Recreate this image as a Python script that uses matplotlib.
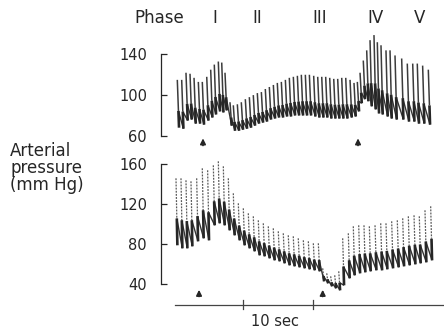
import matplotlib
matplotlib.use("Agg")
import matplotlib.pyplot as plt
from matplotlib.collections import LineCollection

# ---------------- data ----------------
phase_labels = ["I", "II", "III", "IV", "V"]

# top panel: beat times (s), systolic and diastolic pressure (mm Hg)
top_t = [0.49, 1.12, 1.74, 2.32, 2.90, 3.52, 4.09, 4.73, 5.30, 5.82, 6.40, 6.89, 7.36,
         8.08,
         8.56, 9.14, 9.71, 10.29, 10.87, 11.44, 12.02, 12.60, 13.17, 13.75, 14.33, 14.90,
         15.48, 16.06, 16.63, 17.21, 17.79, 18.36, 18.94, 19.52,
         20.14, 20.72, 21.30, 21.87, 22.45, 23.03, 23.60, 24.18, 24.76, 25.38, 25.95, 26.43,
         26.82, 27.29, 27.78, 28.26, 28.83, 29.31, 29.84, 30.56, 31.14, 31.86, 32.82, 33.63,
         34.41, 35.07, 35.84, 36.66]
top_sys = [115, 115, 122, 121, 117, 113, 113, 118, 125, 130, 133, 132, 122,
           93,
           90, 91, 93, 96, 98, 100, 102, 103, 106, 108, 110, 112,
           113, 115, 117, 118, 119, 120, 120, 120,
           119, 118, 118, 118, 117, 116, 116, 117, 117, 115, 112, 113,
           122, 134, 144, 154, 159, 152, 149, 144, 144, 139, 136, 131,
           131, 131, 129, 125]
top_dia = [68, 67, 75, 76, 72, 72, 71, 75, 78, 81, 84, 83, 85,
           70,
           65, 65, 66, 67, 68, 70, 72, 73, 74, 76, 77, 78,
           78, 79, 79, 80, 80, 80, 80, 80,
           79, 78, 78, 78, 77, 77, 77, 77, 77, 78, 79, 84,
           92, 96, 94, 89, 86, 82, 81, 79, 77, 76, 76, 74,
           74, 72, 72, 71]

# bottom panel
bot_t = [0.30, 1.02, 1.74, 2.46, 3.28, 4.09, 4.86, 5.68, 6.40, 7.12, 7.84, 8.56,
         9.28, 10.00, 10.72, 11.44, 12.16, 12.88, 13.60, 14.32, 15.04, 15.76, 16.48,
         17.20, 17.92, 18.65, 19.37, 20.09, 20.81,
         21.44, 22.02, 22.59, 23.17, 23.75, 24.32, 25.13, 25.85, 26.63, 27.39, 28.16,
         28.98, 29.80, 30.56, 31.38, 32.19, 32.97, 33.78, 34.60, 35.36, 36.18, 37.00]
bot_sys = [146, 146, 144, 143, 146, 156, 154, 159, 163, 158, 146, 131,
           121, 116, 111, 108, 104, 101, 98, 96, 93, 91, 89,
           88, 86, 84, 83, 81, 81,
           56, 51, 48, 49, 53, 86, 91, 98, 99, 99, 98,
           99, 101, 101, 103, 104, 106, 108, 109, 108, 114, 118]
bot_dia = [79, 76, 76, 78, 83, 86, 84, 99, 101, 99, 94, 89,
           84, 79, 76, 73, 69, 68, 66, 64, 63, 61, 59,
           58, 57, 56, 55, 54, 53,
           43, 41, 38, 36, 34, 39, 46, 49, 51, 52, 53,
           54, 54, 55, 56, 57, 58, 59, 60, 61, 62, 64]

top_ticks = [60, 100, 140]
bot_ticks = [40, 80, 120, 160]
top_arrows = [4.19, 26.53]
bot_arrows = [3.62, 21.44]
time_ticks = [10, 20]

# ---------------- drawing ----------------
W, H = 444, 329
fig = plt.figure(figsize=(W / 100, H / 100), dpi=100)
fig.patch.set_facecolor("white")

INK = "#262626"
XL = (-1.86, 38.92)
left, width = 161 / W, (W - 161) / W


def panel(y_top_px, y_bot_px, ylim):
    ax = fig.add_axes([left, 1 - y_bot_px / H, width, (y_bot_px - y_top_px) / H])
    ax.set_xlim(*XL)
    ax.set_ylim(*ylim)
    for s in ("top", "right", "bottom"):
        ax.spines[s].set_visible(False)
    ax.spines["left"].set_color(INK)
    ax.spines["left"].set_linewidth(0.9)
    ax.tick_params(axis="y", direction="in", length=4, width=0.9, color=INK,
                   pad=10, labelsize=10.5, labelcolor=INK)
    ax.set_xticks([])
    ax.patch.set_alpha(0)
    return ax


def trace(ax, t, sysv, diav, frac, slant, upper_style, lower_lw):
    upper, lower, decay = [], [], []
    for i, (ti, s, d) in enumerate(zip(t, sysv, diav)):
        n = d + frac * (s - d)
        tn = ti + slant * (s - n) / max(s - d, 1)
        upper.append([(ti, s), (tn, n)])
        lower.append([(tn, n), (ti + slant, d)])
        if i + 1 < len(t):
            decay.append([(tn, n), (t[i + 1] + slant, diav[i + 1])])
    ax.add_collection(LineCollection(upper, colors=upper_style[0], linewidths=upper_style[1],
                                     linestyles=upper_style[2]))
    ax.add_collection(LineCollection(decay, colors="#333333", linewidths=1.0))
    ax.add_collection(LineCollection(lower, colors=INK, linewidths=lower_lw))


def arrows(ax, xs, tip, base):
    for x in xs:
        ax.annotate("", xy=(x, tip), xytext=(x, base),
                    arrowprops=dict(arrowstyle="-|>", color=INK, lw=1.2,
                                    mutation_scale=8, shrinkA=0, shrinkB=0),
                    annotation_clip=False)


# top panel
ax1 = panel(30, 146, (50, 164))
ax1.spines["left"].set_bounds(60, 140)
ax1.set_yticks(top_ticks)
trace(ax1, top_t, top_sys, top_dia, 0.35, 0.25, ("#3c3c3c", 1.1, "solid"), 1.9)
arrows(ax1, top_arrows, 57.5, 50.5)

# bottom panel
ax2 = panel(150, 300, (24.3, 174.3))
ax2.spines["left"].set_bounds(40, 160)
ax2.set_yticks(bot_ticks)
trace(ax2, bot_t, bot_sys, bot_dia, 0.4, 0.2, ("#5a5a5a", 0.9, (0, (1.5, 1.0))), 1.9)
arrows(ax2, bot_arrows, 34.5, 27.8)

# time bar
ax2.plot([0.16, XL[1]], [19.3, 19.3], color="#444444", lw=0.9, clip_on=False)
for tt in time_ticks:
    ax2.plot([tt, tt], [15.5, 24.0], color="#444444", lw=0.9, clip_on=False)
ax2.text(14.6, 2.8, "10 sec", ha="center", va="center", fontsize=10.5, color=INK,
         clip_on=False)

# phase labels
fig.text(159 / W, 1 - 18 / H, "Phase", ha="center", va="center", fontsize=12, color=INK)
for lab, xp in zip(phase_labels, [215, 257, 320, 375, 420]):
    fig.text(xp / W, 1 - 18 / H, lab, ha="center", va="center", fontsize=12, color=INK)

fig.text(10 / W, 1 - 168 / H, "Arterial\npressure\n(mm Hg)", ha="left", va="center",
         fontsize=12, color=INK, linespacing=0.95)

fig.savefig("out.png", dpi=100, facecolor="white")
